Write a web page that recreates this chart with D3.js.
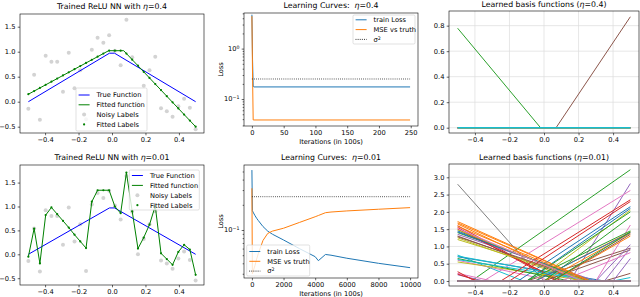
<!DOCTYPE html>
<html><head><meta charset="utf-8">
<script src="https://cdn.jsdelivr.net/npm/d3@7"></script>
<style>
body{margin:0;background:#fff}
svg{display:block;font-family:"DejaVu Sans",sans-serif}
</style></head><body>
<svg id="c" width="640" height="297"></svg>
<script>
// ---------------- DATA ----------------
const sampleX = [-0.5,-0.4655,-0.431,-0.3966,-0.3621,-0.3276,-0.2931,-0.2586,-0.2241,-0.1897,-0.1552,-0.1207,-0.0862,-0.0517,-0.0172,0.0172,0.0517,0.0862,0.1207,0.1552,0.1897,0.2241,0.2586,0.2931,0.3276,0.3621,0.3966,0.431,0.4655,0.5];
const noisyLabels = [-0.14,0.54,-0.36,0.92,0.80,0.80,0.20,0.98,0.27,0.63,-0.35,1.04,1.28,1.18,1.33,1.02,0.73,1.64,0.89,0.0,0.32,0.63,0.90,-0.13,-0.19,-0.30,-0.09,0.06,-0.12,-0.55];
const trueFnX = [-0.5,-0.0152,0.0152,0.5];
const trueFnY = [0,0.97,0.97,0];
const fittedFnX04 = [-0.5,-0.02,0.07,0.5];
const fittedFnY04 = [0.15,1.02,1.02,-0.5];
const fittedLabels04 = [0.15,0.212,0.275,0.337,0.40,0.462,0.525,0.587,0.65,0.712,0.775,0.837,0.90,0.962,1.02,1.02,1.02,0.963,0.84,0.72,0.597,0.475,0.353,0.232,0.11,-0.012,-0.135,-0.257,-0.378,-0.5];
const fittedLabels001 = [-0.05,0.54,-0.19,0.82,0.98,0.84,0.70,0.56,0.41,0.27,0.13,1.10,1.34,1.34,1.34,1.0,0.86,1.71,0.9,0.12,0.35,0.62,1.01,0.02,-0.1,-0.22,0.05,0.2,0.1,-0.43];

const iters04 = [0,1,2,3,249];
const trainLoss04 = [4.7,0.6,0.18,0.174,0.174];
const mseTruth04 = [4.4,0.3,0.0385,0.0385,0.0385];
const iters001 = [0,30,100,200,300,400,700,1000,1300,2000,3000,4000,4200,4650,5000,6000,8000,10000];
const trainLoss001 = [0.52,0.17,0.16,0.148,0.138,0.13,0.11,0.097,0.089,0.076,0.060,0.048,0.043,0.051,0.050,0.046,0.040,0.0355];
const mseTruth001 = [0.315,0.03,0.033,0.038,0.045,0.052,0.075,0.091,0.097,0.105,0.123,0.144,0.149,0.161,0.164,0.169,0.177,0.185];
const sigma2 = 0.25;

// basis units in plotting order: [side (+1 right, -1 left, 0 dead), knot, value at active edge]
const basis04 = [[0,0,0],[0,0,0],[-1,-0.02,0.78],[0,0,0],[0,0,0],[1,0.07,0.87],[0,0,0],[0,0,0],[0,0,0],[0,0,0]];
const basis001 = [
 [-1,0.25,1.45],[-1,0.27,1.72],[1,-0.42,3.22],[-1,0.08,1.6],[1,0.15,2.82],[-1,0.22,1.3],[1,-0.35,2.62],[-1,0.0,2.8],[-1,0.2,1.25],[-1,-0.12,0.75],
 [-1,0.35,0.7],[-1,0.2,1.65],[-1,0.28,1.4],[-1,0.07,1.55],[-1,0.3,1.35],[1,-0.1,0.95],[-1,0.05,0.6],[0,0,0],[-1,0.25,0.55],[-1,0.3,0.72],
 [1,-0.15,2.15],[1,-0.05,1.42],[-1,0.15,0.65],[-1,0.1,1.5],[-1,-0.35,0.18],[1,0.0,0.9],[-1,-0.3,0.22],[0,0,0],[1,-0.05,2.05],[1,0.4,0.1],
 [1,-0.1,2.1],[1,0.0,1.38],[1,-0.1,2.0],[-1,-0.4,0.27],[1,0.3,1.05],[1,0.35,0.22],[1,0.3,1.62],[0,0,0],[-1,0.27,1.2],[-1,0.28,0.62],
 [-1,0.27,1.42],[1,0.05,1.3],[1,0.0,1.85],[-1,-0.38,0.2],[1,0.35,0.95],[-1,0.26,1.28],[1,0.1,0.82],[0,0,0],[-1,0.24,1.48],[0,0,0],
 [1,-0.05,1.4],[-1,0.26,1.58],[1,-0.1,1.45],[1,-0.25,2.35],[1,0.4,0.65],[1,0.05,1.35],[-1,0.22,1.52],[0,0,0],[0,0,0],[0,0,0],
 [0,0,0],[-1,0.27,1.68],[1,0.05,1.42],[1,-0.2,2.3],[0,0,0],[0,0,0],[0,0,0],[0,0,0]
];

const ticksFn = [-0.4,-0.2,0.0,0.2,0.4];
const ticksFnY = [-0.5,0.0,0.5,1.0,1.5];
const ticksIter04 = [0,50,100,150,200,250];
const ticksIter001 = [0,2000,4000,6000,8000,10000];
const ticksBasis04 = [0.0,0.2,0.4,0.6,0.8];
const ticksBasis001 = [0.0,0.5,1.0,1.5,2.0,2.5,3.0];

// ---------------- DRAWING ----------------
const svg = d3.select("#c");
const FS = 6.7, TFS = 7.8, TL = 2.3, LW = 1;
const tab = d3.schemeCategory10;
let clipId = 0;

function makePanel(b){
  const id = "clip" + (clipId++);
  svg.append("clipPath").attr("id", id).append("rect")
    .attr("x", b.x0).attr("y", b.y0).attr("width", b.x1 - b.x0).attr("height", b.y1 - b.y0);
  return svg.append("g").attr("clip-path", `url(#${id})`);
}
function frame(b){
  svg.append("rect").attr("x", b.x0).attr("y", b.y0).attr("width", b.x1 - b.x0).attr("height", b.y1 - b.y0)
    .attr("fill", "none").attr("stroke", "#000").attr("stroke-width", 0.6);
}
function styleAxis(g){
  g.attr("font-size", FS).attr("font-family", null);
  g.select(".domain").remove();
  g.selectAll(".tick line").attr("stroke-width", 0.6);
  g.selectAll(".tick text").attr("fill", "#000");
}
function xAxis(b, x, vals, fmt){
  const g = svg.append("g").attr("transform", `translate(0,${b.y1})`)
    .call(d3.axisBottom(x).tickValues(vals).tickFormat(fmt).tickSize(TL).tickPadding(2.3));
  styleAxis(g);
}
function yAxis(b, y, vals, fmt){
  const g = svg.append("g").attr("transform", `translate(${b.x0},0)`)
    .call(d3.axisLeft(y).tickValues(vals).tickFormat(fmt).tickSize(TL).tickPadding(2.3));
  styleAxis(g);
}
function grid(g, b, x, y, xv, yv){
  g.selectAll(null).data(xv).join("line").attr("x1", d => x(d)).attr("x2", d => x(d))
    .attr("y1", b.y0).attr("y2", b.y1).attr("stroke", "#dcdcdc").attr("stroke-width", 0.7);
  g.selectAll(null).data(yv).join("line").attr("y1", d => y(d)).attr("y2", d => y(d))
    .attr("x1", b.x0).attr("x2", b.x1).attr("stroke", "#dcdcdc").attr("stroke-width", 0.7);
}
function logYAxis(b, y, majors, minors){
  const g = svg.append("g").attr("transform", `translate(${b.x0},0)`)
    .call(d3.axisLeft(y).tickValues(majors).tickFormat("").tickSize(TL));
  styleAxis(g);
  const gm = svg.append("g").attr("transform", `translate(${b.x0},0)`)
    .call(d3.axisLeft(y).tickValues(minors).tickFormat("").tickSize(1.3));
  styleAxis(gm);
  majors.forEach(v => {
    const e = Math.round(Math.log10(v));
    const t = svg.append("text").attr("x", b.x0 - 4.6).attr("y", y(v)).attr("dy", "0.32em")
      .attr("text-anchor", "end").attr("font-size", FS);
    t.append("tspan").text("10");
    t.append("tspan").attr("dy", "-0.45em").attr("font-size", FS * 0.7).text(e < 0 ? "−" + (-e) : String(e));
  });
}
function title(b, pre, post, yy){
  const t = svg.append("text").attr("x", (b.x0 + b.x1) / 2).attr("y", yy)
    .attr("text-anchor", "middle").attr("font-size", TFS);
  t.append("tspan").text(pre);
  t.append("tspan").attr("font-style", "italic").text("η");
  t.append("tspan").text(post);
}
function legend(box, items){
  svg.append("rect").attr("x", box.x).attr("y", box.y).attr("width", box.w).attr("height", box.h)
    .attr("rx", 1.3).attr("fill", "#fff").attr("fill-opacity", 0.8).attr("stroke", "#cccccc").attr("stroke-width", 0.6);
  items.forEach((it, i) => {
    const cy = box.y + box.first + i * box.step;
    const hx0 = box.x + 2.6, hx1 = box.x + 2.6 + 11;
    if (it.kind === "line") {
      svg.append("line").attr("x1", hx0).attr("x2", hx1).attr("y1", cy).attr("y2", cy)
        .attr("stroke", it.color).attr("stroke-width", LW).attr("stroke-dasharray", it.dash || null);
    } else if (it.kind === "circle") {
      svg.append("circle").attr("cx", (hx0 + hx1) / 2).attr("cy", cy).attr("r", 2).attr("fill", it.color);
    } else {
      svg.append("circle").attr("cx", (hx0 + hx1) / 2).attr("cy", cy).attr("r", 1.1).attr("fill", it.color);
    }
    const t = svg.append("text").attr("x", hx1 + 7).attr("y", cy).attr("dy", "0.35em").attr("font-size", FS);
    if (it.sup) { t.append("tspan").text(it.label); t.append("tspan").attr("dy", "-0.45em").attr("font-size", FS*0.7).text(it.sup); }
    else t.text(it.label);
  });
}
const fmt1 = d3.format(".1f");

// ---- Function-fit panels ----
function fnPanel(b, yDom, fitX, fitY, fitLabels, tTxt, legBox){
  const x = d3.scaleLinear().domain([-0.55, 0.55]).range([b.x0, b.x1]);
  const y = d3.scaleLinear().domain(yDom).range([b.y1, b.y0]);
  const g = makePanel(b);
  const line = d3.line().x(d => x(d[0])).y(d => y(d[1]));
  g.selectAll(null).data(sampleX).join("circle").attr("cx", d => x(d)).attr("cy", (d, i) => y(noisyLabels[i]))
    .attr("r", 2).attr("fill", "#d3d3d3");
  g.append("path").attr("d", line(trueFnX.map((v, i) => [v, trueFnY[i]]))).attr("fill", "none").attr("stroke", "#0000ff").attr("stroke-width", LW);
  g.append("path").attr("d", line(fitX.map((v, i) => [v, fitY[i]]))).attr("fill", "none").attr("stroke", "#008000").attr("stroke-width", LW);
  g.selectAll(null).data(sampleX).join("circle").attr("cx", d => x(d)).attr("cy", (d, i) => y(fitLabels[i]))
    .attr("r", 1.1).attr("fill", "#008000");
  frame(b);
  xAxis(b, x, ticksFn, fmt1);
  yAxis(b, y, ticksFnY, fmt1);
  title(b, tTxt[0], tTxt[1], b.y0 - 5);
  legend(legBox, [
    {kind: "line", color: "#0000ff", label: "True Function"},
    {kind: "line", color: "#008000", label: "Fitted function"},
    {kind: "circle", color: "#d3d3d3", label: "Noisy Labels"},
    {kind: "dot", color: "#008000", label: "Fitted Labels"}
  ]);
}
const bTL = {x0: 20, x1: 204, y0: 14, y1: 133};
fnPanel(bTL, [-0.626, 1.754], fittedFnX04, fittedFnY04, fittedLabels04, ["Trained ReLU NN with ", "=0.4"],
  {x: 76, y: 88, w: 71, h: 43, first: 7, step: 9.8});
const bBL = {x0: 20, x1: 204, y0: 165, y1: 285};
fnPanel(bBL, [-0.642, 1.868], sampleX, fittedLabels001, fittedLabels001, ["Trained ReLU NN with ", "=0.01"],
  {x: 129.3, y: 170, w: 70, h: 40, first: 5.5, step: 9.9});

// ---- Learning curve panels ----
function lcPanel(b, xDom, yDom, its, tr, ms, xt, majors, minors, tTxt, legBox){
  const x = d3.scaleLinear().domain(xDom).range([b.x0, b.x1]);
  const y = d3.scaleLog().domain(yDom).range([b.y1, b.y0]);
  const g = makePanel(b);
  const line = d3.line().x(d => x(d[0])).y(d => y(d[1]));
  g.append("path").attr("d", line(its.map((v, i) => [v, tr[i]]))).attr("fill", "none").attr("stroke", tab[0]).attr("stroke-width", LW);
  g.append("path").attr("d", line(its.map((v, i) => [v, ms[i]]))).attr("fill", "none").attr("stroke", tab[1]).attr("stroke-width", LW);
  g.append("path").attr("d", line([[its[0], sigma2], [its[its.length - 1], sigma2]])).attr("fill", "none")
    .attr("stroke", "#000").attr("stroke-width", 0.8).attr("stroke-dasharray", "0.8,1.3");
  frame(b);
  xAxis(b, x, xt, d3.format("d"));
  logYAxis(b, y, majors, minors);
  svg.append("text").attr("x", (b.x0 + b.x1) / 2).attr("y", b.y1 + 17.5).attr("text-anchor", "middle")
    .attr("font-size", FS).text("Iterations (in 100s)");
  svg.append("text").attr("transform", `translate(${b.x0 - 21},${(b.y0 + b.y1) / 2}) rotate(-90)`)
    .attr("text-anchor", "middle").attr("font-size", FS).text("Loss");
  title(b, tTxt[0], tTxt[1], b.y0 - 5);
  legend(legBox, [
    {kind: "line", color: tab[0], label: "train Loss"},
    {kind: "line", color: tab[1], label: "MSE vs truth"},
    {kind: "line", color: "#000", dash: "0.8,1.3", label: "σ", sup: "2"}
  ]);
}
const bTM = {x0: 244, x1: 418, y0: 13, y1: 126};
lcPanel(bTM, [-12.45, 261.45], [Math.pow(10, -1.534), Math.pow(10, 0.706)], iters04, trainLoss04, mseTruth04, ticksIter04,
  [0.1, 1], [0.03,0.04,0.05,0.06,0.07,0.08,0.09,0.2,0.3,0.4,0.5,0.6,0.7,0.8,0.9,2,3,4,5],
  ["Learning Curves:\u00a0\u00a0", "=0.4"], {x: 353, y: 15, w: 62, h: 29, first: 4.8, step: 9.8});
const bBM = {x0: 244, x1: 418, y0: 165, y1: 278};
lcPanel(bBM, [-500, 10500], [Math.pow(10, -1.5735), Math.pow(10, -0.2234)], iters001, trainLoss001, mseTruth001, ticksIter001,
  [0.1], [0.03,0.04,0.05,0.06,0.07,0.08,0.09,0.2,0.3,0.4,0.5],
  ["Learning Curves:\u00a0\u00a0", "=0.01"], {x: 246.7, y: 245, w: 63, h: 31, first: 6.5, step: 9.8});

// ---- Basis panels ----
function basisPanel(b, yDom, units, yt, tTxt){
  const x = d3.scaleLinear().domain([-0.55, 0.55]).range([b.x0, b.x1]);
  const y = d3.scaleLinear().domain(yDom).range([b.y1, b.y0]);
  const g = makePanel(b);
  grid(g, b, x, y, ticksFn, yt);
  const line = d3.line().x(d => x(d[0])).y(d => y(d[1]));
  units.forEach((u, i) => {
    const [side, k, v] = u;
    let pts;
    if (side > 0) pts = [[-0.5, 0], [k, 0], [0.5, v]];
    else if (side < 0) pts = [[-0.5, v], [k, 0], [0.5, 0]];
    else pts = [[-0.5, 0], [0.5, 0]];
    g.append("path").attr("d", line(pts)).attr("fill", "none").attr("stroke", tab[i % 10]).attr("stroke-width", side === 0 ? 1.6 : LW);
  });
  frame(b);
  xAxis(b, x, ticksFn, fmt1);
  yAxis(b, y, yt, fmt1);
  const t = svg.append("text").attr("x", (b.x0 + b.x1) / 2).attr("y", b.y0 - 4.5)
    .attr("text-anchor", "middle").attr("font-size", TFS);
  t.append("tspan").text(tTxt[0]);
  t.append("tspan").attr("font-style", "italic").text("η");
  t.append("tspan").text(tTxt[1]);
}
const bTR = {x0: 449, x1: 639, y0: 11, y1: 133};
basisPanel(bTR, [-0.0416, 0.915], basis04, ticksBasis04, ["Learned basis functions (", "=0.4)"]);
const bBR = {x0: 449, x1: 639, y0: 164, y1: 286};
basisPanel(bBR, [-0.145, 3.385], basis001, ticksBasis001, ["Learned basis functions (", "=0.01)"]);
</script>
</body></html>
